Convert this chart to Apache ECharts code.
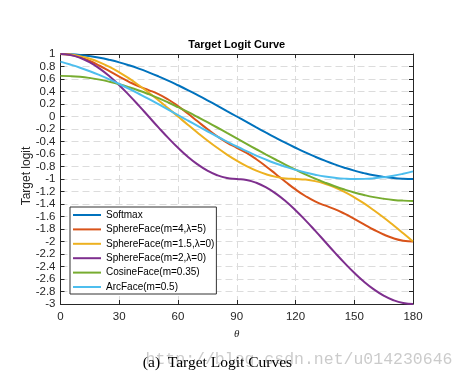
<!DOCTYPE html>
<html>
<head>
<meta charset="utf-8">
<script src="https://cdn.jsdelivr.net/npm/echarts@6/dist/echarts.min.js"></script>
<style>html,body{margin:0;padding:0;background:#fff;}#c{width:466px;height:381px;}</style>
</head>
<body>
<div id="c"></div>
<script>
const theta = [0,5,10,15,20,25,30,35,40,45,50,55,60,65,70,75,80,85,90,95,100,105,110,115,120,125,130,135,140,145,150,155,160,165,170,175,180];
const softmax = [1,0.996,0.985,0.966,0.940,0.906,0.866,0.819,0.766,0.707,0.643,0.574,0.5,0.423,0.342,0.259,0.174,0.087,0,-0.087,-0.174,-0.259,-0.342,-0.423,-0.5,-0.574,-0.643,-0.707,-0.766,-0.819,-0.866,-0.906,-0.940,-0.966,-0.985,-0.996,-1];
const sphereM4 = [1,0.987,0.948,0.888,0.812,0.726,0.638,0.555,0.482,0.423,0.359,0.272,0.167,0.048,-0.077,-0.201,-0.316,-0.417,-0.5,-0.583,-0.684,-0.799,-0.923,-1.048,-1.167,-1.272,-1.359,-1.423,-1.482,-1.555,-1.638,-1.726,-1.812,-1.888,-1.948,-1.987,-2];
const sphereM15 = [1,0.991,0.966,0.924,0.866,0.793,0.707,0.609,0.5,0.383,0.259,0.131,0,-0.131,-0.259,-0.383,-0.5,-0.609,-0.707,-0.793,-0.866,-0.924,-0.966,-0.991,-1,-1.009,-1.034,-1.076,-1.134,-1.207,-1.293,-1.391,-1.5,-1.617,-1.741,-1.869,-2];
const sphereM2 = [1,0.985,0.940,0.866,0.766,0.643,0.5,0.342,0.174,0,-0.174,-0.342,-0.5,-0.643,-0.766,-0.866,-0.940,-0.985,-1,-1.015,-1.060,-1.134,-1.234,-1.357,-1.5,-1.658,-1.826,-2,-2.174,-2.342,-2.5,-2.643,-2.766,-2.866,-2.940,-2.985,-3];
const cosFace = [0.65,0.646,0.635,0.616,0.590,0.556,0.516,0.469,0.416,0.357,0.293,0.224,0.15,0.073,-0.008,-0.091,-0.176,-0.263,-0.35,-0.437,-0.524,-0.609,-0.692,-0.773,-0.85,-0.924,-0.993,-1.057,-1.116,-1.169,-1.216,-1.256,-1.290,-1.316,-1.335,-1.346,-1.35];
const arcFace = [0.878,0.832,0.781,0.724,0.661,0.593,0.520,0.444,0.364,0.282,0.197,0.111,0.024,-0.064,-0.150,-0.236,-0.320,-0.401,-0.480,-0.554,-0.625,-0.691,-0.751,-0.805,-0.854,-0.896,-0.931,-0.960,-0.980,-0.994,-1.000,-0.998,-0.989,-0.972,-0.948,-0.916,-0.878];
const seriesNames = ['Softmax','SphereFace(m=4,λ=5)','SphereFace(m=1.5,λ=0)','SphereFace(m=2,λ=0)','CosineFace(m=0.35)','ArcFace(m=0.5)'];
const seriesValues = [softmax, sphereM4, sphereM15, sphereM2, cosFace, arcFace];
const colors = ['#0072BD','#D95319','#EDB120','#7E2F8E','#77AC30','#4DBEEE'];

const chart = echarts.init(document.getElementById('c'), null, {renderer:'canvas'});
const axisCol = '#262626';
const font = 'Liberation Sans, Arial, sans-serif';
const gridLine = {show:true, lineStyle:{color:'#dcdcdc', type:[7,4], width:1}};

const series = seriesNames.map((n,i)=>({
  name:n, type:'line', smooth:true, symbol:'none', showSymbol:false,
  lineStyle:{width:2, color:colors[i]}, itemStyle:{color:colors[i]},
  data: theta.map((t,j)=>[t, seriesValues[i][j]]),
  xAxisIndex:0, yAxisIndex:0, animation:false
}));

chart.setOption({
  animation:false,
  grid:{left:60.5, right:53, top:54, bottom:77, containLabel:false},
  xAxis:[
    {type:'value', min:0, max:180, interval:30, position:'bottom',
     axisLine:{show:true, onZero:false, lineStyle:{color:axisCol, width:1}},
     axisTick:{show:true, inside:true, length:4, lineStyle:{color:axisCol}},
     axisLabel:{margin:7, color:axisCol, fontSize:11.5, fontFamily:font},
     splitLine:gridLine,
     name:'θ', nameLocation:'middle', nameGap:25,
     nameTextStyle:{fontFamily:'Liberation Serif, Times New Roman, serif', fontStyle:'italic', fontSize:11, color:axisCol}},
    {type:'value', min:0, max:180, interval:30, position:'top',
     axisLine:{show:true, onZero:false, lineStyle:{color:axisCol, width:1}},
     axisTick:{show:true, inside:true, length:4, lineStyle:{color:axisCol}},
     axisLabel:{show:false}, splitLine:{show:false}}
  ],
  yAxis:[
    {type:'value', min:-3, max:1, interval:0.2, position:'left',
     axisLine:{show:true, onZero:false, lineStyle:{color:axisCol, width:1}},
     axisTick:{show:true, inside:true, length:4, lineStyle:{color:axisCol}},
     axisLabel:{margin:5, color:axisCol, fontSize:11.5, fontFamily:font,
       formatter:v=>String(Math.round(v*10)/10)},
     splitLine:gridLine},
    {type:'value', min:-3, max:1, interval:0.2, position:'right',
     axisLine:{show:true, onZero:false, lineStyle:{color:axisCol, width:1}},
     axisTick:{show:true, inside:true, length:4, lineStyle:{color:axisCol}},
     axisLabel:{show:false}, splitLine:{show:false}}
  ],
  legend:{
    orient:'vertical', left:70, top:207, data:seriesNames,
    icon:'rect', itemWidth:28, itemHeight:2, itemGap:2.4,
    padding:[2,2,1,3], backgroundColor:'#fff', borderColor:'#333', borderWidth:1,
    textStyle:{fontFamily:font, fontSize:10, color:'#000', lineHeight:12},
    selectedMode:false
  },
  graphic:[
    {type:'text', x:236.75, y:45, z:10, style:{text:'Target Logit Curve', align:'center', verticalAlign:'middle',
      font:'bold 11px Liberation Sans, Arial, sans-serif', fill:'#000'}},
    {type:'text', x:27, y:176, rotation:Math.PI/2, z:10, style:{text:'Target logit', align:'center', verticalAlign:'middle',
      font:'12px Liberation Sans, Arial, sans-serif', fill:axisCol}},
    {type:'text', x:299, y:360, z:1, style:{text:'http://blog.csdn.net/u014230646', align:'center', verticalAlign:'middle',
      font:'16.5px Liberation Mono, DejaVu Sans Mono, monospace', fill:'rgba(190,190,190,0.8)'}},
    {type:'text', x:217.5, y:363, z:10, style:{text:'(a)  Target Logit Curves', align:'center', verticalAlign:'middle',
      font:'15.5px Liberation Serif, Times New Roman, serif', fill:'#000'}}
  ],
  series:series
});
</script>
</body>
</html>
